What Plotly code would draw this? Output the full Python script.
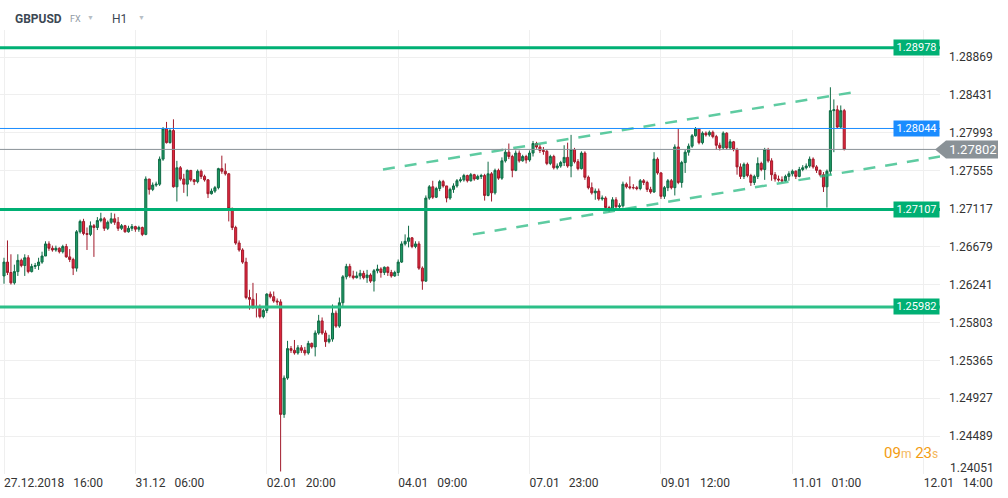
import plotly.graph_objects as go

# GBPUSD H1 candles, 27.12.2018 16:00 onwards (one bar per hour, weekends skipped)
first_open = 1.2634
close = [
    1.2650, 1.2638, 1.2626, 1.2639, 1.2652, 1.2646, 1.2655, 1.2639, 1.2645, 1.2646,
    1.2650, 1.2657, 1.2671, 1.2666, 1.2664, 1.2666, 1.2662, 1.2668, 1.2656, 1.2653,
    1.2643, 1.2685, 1.2697, 1.2683, 1.2682, 1.2692, 1.2690, 1.2698, 1.2700, 1.2689,
    1.2696, 1.2700, 1.2696, 1.2689, 1.2692, 1.2685, 1.2689, 1.2691, 1.2688, 1.2690,
    1.2682, 1.2746, 1.2734, 1.2739, 1.2740, 1.2769, 1.2804, 1.2788, 1.2802, 1.2737,
    1.2759, 1.2746, 1.2740, 1.2756, 1.2745, 1.2743, 1.2755, 1.2749, 1.2745, 1.2729,
    1.2732, 1.2736, 1.2758, 1.2755, 1.2752, 1.2712, 1.2690, 1.2672, 1.2664, 1.2650,
    1.2609, 1.2607, 1.2598, 1.2598, 1.2587, 1.2594, 1.2613, 1.2610, 1.2605, 1.2604,
    1.2474, 1.2516, 1.2550, 1.2548, 1.2545, 1.2551, 1.2548, 1.2545, 1.2556, 1.2552,
    1.2568, 1.2582, 1.2568, 1.2558, 1.2561, 1.2591, 1.2576, 1.2603, 1.2633, 1.2645,
    1.2634, 1.2632, 1.2634, 1.2637, 1.2632, 1.2635, 1.2628, 1.2640, 1.2642, 1.2638,
    1.2644, 1.2638, 1.2634, 1.2638, 1.2650, 1.2671, 1.2674, 1.2678, 1.2668, 1.2671,
    1.2643, 1.2628, 1.2724, 1.2737, 1.2725, 1.2735, 1.2743, 1.2738, 1.2724,
    1.2734, 1.2738, 1.2744, 1.2745, 1.2750, 1.2744, 1.2751, 1.2746, 1.2749, 1.2750,
    1.2727, 1.2752, 1.2730, 1.2756, 1.2747, 1.2767, 1.2777, 1.2772, 1.2756, 1.2776,
    1.2767, 1.2772, 1.2768, 1.2776, 1.2787, 1.2783, 1.2779, 1.2778, 1.2764, 1.2772,
    1.2759, 1.2761, 1.2765, 1.2771, 1.2761, 1.2780, 1.2766, 1.2758, 1.2776, 1.2748,
    1.2736, 1.2730, 1.2732, 1.2723, 1.2724, 1.2713, 1.2711, 1.2722, 1.2714, 1.2715,
    1.2740, 1.2737, 1.2736, 1.2736, 1.2735, 1.2744, 1.2742, 1.2734, 1.2731, 1.2769,
    1.2753,
    1.2726, 1.2736, 1.2744, 1.2736, 1.2783, 1.2742, 1.2765, 1.2777, 1.2784, 1.2796,
    1.2804, 1.2788, 1.2799, 1.2797, 1.2800, 1.2795, 1.2785, 1.2782, 1.2799, 1.2782,
    1.2789, 1.2780, 1.2760, 1.2749, 1.2763, 1.2750, 1.2742, 1.2749, 1.2764, 1.2757,
    1.2780, 1.2767, 1.2751, 1.2746, 1.2745, 1.2744, 1.2749, 1.2752, 1.2755, 1.2749,
    1.2757, 1.2759, 1.2761, 1.2769, 1.2760, 1.2756, 1.2751, 1.2737, 1.2755, 1.2825,
    1.2826, 1.2806, 1.2825, 1.27802,
]
high = [
    1.2655, 1.2675, 1.2659, 1.2647, 1.2659, 1.2654, 1.2659, 1.2658, 1.2648, 1.2649,
    1.2655, 1.2662, 1.2674, 1.2674, 1.2669, 1.2669, 1.2667, 1.2670, 1.2671, 1.2665,
    1.2655, 1.2687, 1.2699, 1.2700, 1.2690, 1.2697, 1.2694, 1.2702, 1.2707, 1.2702,
    1.2698, 1.2707, 1.2706, 1.2702, 1.2694, 1.2693, 1.2692, 1.2694, 1.2692, 1.2692,
    1.2691, 1.2749, 1.2746, 1.2742, 1.2743, 1.2772, 1.2806, 1.2812, 1.2804, 1.2815,
    1.2767, 1.2761, 1.2752, 1.2757, 1.2756, 1.2746, 1.2757, 1.2757, 1.2751, 1.2746,
    1.2735, 1.2738, 1.2759, 1.2773, 1.2764, 1.2753, 1.2713, 1.2692, 1.2675, 1.2666,
    1.2655, 1.2618, 1.2626, 1.2614, 1.2601, 1.2596, 1.2614, 1.2616, 1.2616, 1.2608,
    1.2607, 1.2519, 1.2559, 1.2553, 1.2560, 1.2554, 1.2554, 1.2552, 1.2559, 1.2557,
    1.2571, 1.2589, 1.2586, 1.2571, 1.2566, 1.2601, 1.2594, 1.2609, 1.2635, 1.2648,
    1.2648, 1.2640, 1.2639, 1.2641, 1.2640, 1.2641, 1.2637, 1.2642, 1.2647, 1.2644,
    1.2645, 1.2645, 1.2641, 1.2640, 1.2653, 1.2674, 1.2682, 1.2692, 1.2679, 1.2674,
    1.2674, 1.2645, 1.2727, 1.2739, 1.2744, 1.2737, 1.2745, 1.2745, 1.2738,
    1.2736, 1.2741, 1.2746, 1.2748, 1.2752, 1.2751, 1.2753, 1.2752, 1.2751, 1.2752,
    1.2752, 1.2766, 1.2754, 1.2758, 1.2758, 1.2771, 1.2781, 1.2787, 1.2774, 1.2779,
    1.2779, 1.2774, 1.2774, 1.2779, 1.2790, 1.2789, 1.2786, 1.2783, 1.2780, 1.2774,
    1.2774, 1.2764, 1.2767, 1.2785, 1.2788, 1.2797, 1.2782, 1.2769, 1.2778, 1.2778,
    1.2750, 1.2742, 1.2735, 1.2735, 1.2727, 1.2726, 1.2715, 1.2725, 1.2725, 1.2718,
    1.2743, 1.2742, 1.2749, 1.2740, 1.2738, 1.2746, 1.2746, 1.2744, 1.2737, 1.2777,
    1.2771,
    1.2754, 1.2738, 1.2746, 1.2746, 1.2786, 1.2804, 1.2767, 1.2780, 1.2787, 1.2798,
    1.2806, 1.2805, 1.2801, 1.2801, 1.2802, 1.2802, 1.2797, 1.2788, 1.2801, 1.2800,
    1.2792, 1.2790, 1.2782, 1.2764, 1.2765, 1.2765, 1.2752, 1.2751, 1.2771, 1.2766,
    1.2782, 1.2782, 1.2770, 1.2754, 1.2750, 1.2749, 1.2751, 1.2755, 1.2757, 1.2756,
    1.2760, 1.2762, 1.2764, 1.2772, 1.2771, 1.2762, 1.2757, 1.2754, 1.2757, 1.2852,
    1.2838, 1.2831, 1.2831, 1.2827,
]
low = [
    1.2625, 1.2635, 1.2624, 1.2624, 1.2634, 1.2644, 1.2634, 1.2637, 1.2638, 1.2642,
    1.2641, 1.2648, 1.2657, 1.2663, 1.2662, 1.2662, 1.2660, 1.2660, 1.2655, 1.2650,
    1.2635, 1.2639, 1.2683, 1.2681, 1.2664, 1.2680, 1.2656, 1.2687, 1.2696, 1.2686,
    1.2687, 1.2694, 1.2693, 1.2686, 1.2687, 1.2684, 1.2684, 1.2686, 1.2685, 1.2685,
    1.2680, 1.2681, 1.2728, 1.2732, 1.2737, 1.2738, 1.2767, 1.2787, 1.2787, 1.2736,
    1.2720, 1.2744, 1.2730, 1.2726, 1.2743, 1.2739, 1.2741, 1.2746, 1.2743, 1.2724,
    1.2728, 1.2730, 1.2734, 1.2752, 1.2750, 1.2697, 1.2687, 1.2670, 1.2662, 1.2648,
    1.2607, 1.2595, 1.2596, 1.2586, 1.2585, 1.2585, 1.2591, 1.2608, 1.2603, 1.2600,
    1.2408, 1.2470, 1.2514, 1.2545, 1.2543, 1.2543, 1.2545, 1.2542, 1.2543, 1.2550,
    1.2541, 1.2566, 1.2566, 1.2552, 1.2556, 1.2558, 1.2574, 1.2574, 1.2598, 1.2630,
    1.2632, 1.2630, 1.2631, 1.2630, 1.2630, 1.2626, 1.2626, 1.2616, 1.2637, 1.2632,
    1.2635, 1.2634, 1.2632, 1.2633, 1.2634, 1.2649, 1.2669, 1.2667, 1.2666, 1.2666,
    1.2641, 1.2618, 1.2627, 1.2722, 1.2723, 1.2724, 1.2732, 1.2736, 1.2719,
    1.2722, 1.2730, 1.2736, 1.2742, 1.2743, 1.2742, 1.2743, 1.2744, 1.2745, 1.2746,
    1.2721, 1.2726, 1.2720, 1.2728, 1.2745, 1.2745, 1.2765, 1.2769, 1.2748, 1.2755,
    1.2765, 1.2766, 1.2764, 1.2766, 1.2772, 1.2781, 1.2776, 1.2774, 1.2762, 1.2762,
    1.2757, 1.2757, 1.2759, 1.2761, 1.2759, 1.2748, 1.2764, 1.2756, 1.2757, 1.2745,
    1.2734, 1.2728, 1.2722, 1.2721, 1.2721, 1.2710, 1.2708, 1.2709, 1.2712, 1.2712,
    1.2713, 1.2735, 1.2734, 1.2734, 1.2733, 1.2733, 1.2739, 1.2731, 1.2729, 1.2730,
    1.2751,
    1.2723, 1.2723, 1.2732, 1.2734, 1.2727, 1.2740, 1.2736, 1.2753, 1.2773, 1.2782,
    1.2795, 1.2786, 1.2786, 1.2795, 1.2795, 1.2793, 1.2780, 1.2779, 1.2780, 1.2780,
    1.2780, 1.2778, 1.2751, 1.2746, 1.2746, 1.2748, 1.2738, 1.2739, 1.2746, 1.2755,
    1.2745, 1.2765, 1.2744, 1.2743, 1.2743, 1.2742, 1.2743, 1.2744, 1.2749, 1.2746,
    1.2748, 1.2755, 1.2757, 1.2759, 1.2758, 1.2753, 1.2749, 1.2731, 1.2713, 1.2751,
    1.2777, 1.2804, 1.2804, 1.2779,
]
open_ = [first_open] + close[:-1]
bar_index = list(range(len(close)))

# time axis labels, every 38 bars
x_tick_index = [0, 38, 76, 114, 152, 190, 228, 266]
x_tick_text = ["27.12.2018", "31.12", "02.01", "04.01", "07.01", "09.01", "11.01", "12.01"]
x_tick_time = ["16:00", "06:00", "20:00", "09:00", "23:00", "12:00", "01:00", "14:00"]

y_ticks = [1.28869, 1.28431, 1.27993, 1.27555, 1.27117, 1.26679, 1.26241,
           1.25803, 1.25365, 1.24927, 1.24489, 1.24051]

# drawn levels and trend channel
green_levels = [1.28978, 1.27107, 1.25982]
blue_level = 1.28044
last_price = 1.27802
upper_x, upper_y = [109.6, 245.2], [1.2757, 1.2846]
lower_x, lower_y = [135.6, 270.7], [1.2682, 1.2772]

GREEN = "#00b074"
FONT = "Roboto"

fig = go.Figure()
fig.add_trace(go.Candlestick(
    x=bar_index, open=open_, high=high, low=low, close=close,
    increasing=dict(line=dict(color="#0f6b45", width=1), fillcolor="#1f9a66"),
    decreasing=dict(line=dict(color="#a11a2b", width=1), fillcolor="#e3283e"),
    whiskerwidth=0, showlegend=False, hoverinfo="skip",
))
for tx, ty in [(upper_x, upper_y), (lower_x, lower_y)]:
    fig.add_trace(go.Scatter(
        x=tx, y=ty, mode="lines", showlegend=False, hoverinfo="skip",
        line=dict(color="rgba(40,185,130,0.75)", width=2.5, dash="12px,10px"),
    ))

shapes = []
for i, lv in enumerate(green_levels):
    shapes.append(dict(type="line", xref="paper", yref="y", x0=0, x1=1, y0=lv, y1=lv,
                       line=dict(color=GREEN if i < 2 else "#2cbf88", width=3)))
shapes.append(dict(type="line", xref="paper", yref="y", x0=0, x1=1, y0=blue_level, y1=blue_level,
                   line=dict(color="#1a8cff", width=1)))
shapes.append(dict(type="line", xref="paper", yref="y", x0=0, x1=1, y0=last_price, y1=last_price,
                   line=dict(color="#8a9297", width=1)))
h = 0.00104
shapes.append(dict(type="path", xref="paper", yref="y", layer="above",
                   path=f"M 0.9947,{last_price} L 1.0064,{last_price + h} L 1.0617,{last_price + h} "
                        f"L 1.0617,{last_price - h} L 1.0064,{last_price - h} Z",
                   fillcolor="#8a9297", line=dict(width=0)))

annotations = []
for lv, col in [(green_levels[0], GREEN), (green_levels[1], GREEN), (green_levels[2], GREEN), (blue_level, "#1a8cff")]:
    annotations.append(dict(xref="paper", yref="y", x=1, y=lv, xanchor="right", yanchor="middle",
                            text=f"{lv:.5f}", showarrow=False, bgcolor=col, width=43, height=13,
                            font=dict(family=FONT, size=11, color="white")))
annotations.append(dict(xref="paper", yref="y", x=1.0064, y=last_price, xanchor="left", yanchor="middle",
                        text=f"{last_price:.5f}", showarrow=False, width=50, height=18,
                        font=dict(family=FONT, size=13, color="white")))
annotations.append(dict(xref="paper", yref="y", x=1, y=y_ticks[-1], xanchor="left", yanchor="middle",
                        yshift=6, xshift=8, text=f"{y_ticks[-1]:.5f}", showarrow=False,
                        font=dict(family=FONT, size=12, color="#333333")))
# header
annotations += [
    dict(xref="paper", yref="paper", x=0.0138, y=1.0248, xanchor="left", yanchor="middle", showarrow=False,
         text="<b>GBPUSD</b>", font=dict(family=FONT, size=12, color="#3c4854")),
    dict(xref="paper", yref="paper", x=0.0723, y=1.0248, xanchor="left", yanchor="middle", showarrow=False,
         text="FX", font=dict(family=FONT, size=9, color="#8f99a3")),
    dict(xref="paper", yref="paper", x=0.0904, y=1.0265, xanchor="left", yanchor="middle", showarrow=False,
         text="▼", font=dict(family=FONT, size=7, color="#b7bec5")),
    dict(xref="paper", yref="paper", x=0.117, y=1.0248, xanchor="left", yanchor="middle", showarrow=False,
         text="H1", font=dict(family=FONT, size=12, color="#3c4854")),
    dict(xref="paper", yref="paper", x=0.1447, y=1.0265, xanchor="left", yanchor="middle", showarrow=False,
         text="▼", font=dict(family=FONT, size=7, color="#b7bec5")),
]
# bar countdown
annotations.append(dict(xref="paper", yref="paper", x=1, y=0.047, xanchor="right", yanchor="middle",
                        showarrow=False, font=dict(family=FONT, size=15, color="#f39c12"),
                        text="09<span style='font-size:12px;color:#f5b85c'>m</span> 23"
                             "<span style='font-size:12px;color:#f5b85c'>s</span>"))

fig.update_layout(
    width=1008, height=498,
    margin=dict(l=0, r=68, t=30, b=24),
    plot_bgcolor="white", paper_bgcolor="white",
    font=dict(family=FONT, size=12, color="#333333"),
    boxgap=0.15,
    shapes=shapes, annotations=annotations,
    xaxis=dict(
        range=[-1.16, 270.7], rangeslider=dict(visible=False),
        tickmode="array", tickvals=x_tick_index,
        ticktext=[f"{d}\u00a0\u00a0 {t}" for d, t in zip(x_tick_text, x_tick_time)],
        ticklabelposition="outside right", ticks="", showgrid=True, gridcolor="#efefef",
        zeroline=False, showline=False, tickfont=dict(family=FONT, size=12, color="#333333"),
    ),
    yaxis=dict(
        range=[1.24051, 1.29182], side="right", tickmode="array", tickvals=y_ticks,
        ticktext=[f"{v:.5f}" for v in y_ticks[:-1]] + [""],
        ticks="", ticklabelstandoff=8, showgrid=True, gridcolor="#efefef", zeroline=False,
        showline=False, tickfont=dict(family=FONT, size=12, color="#333333"),
    ),
)

# the page body has a default margin; drop it so the figure sits at the window's corner
fig.write_html("out.html", config={"displayModeBar": False, "displaylogo": False},
               post_script="document.body.style.margin = '0';")
